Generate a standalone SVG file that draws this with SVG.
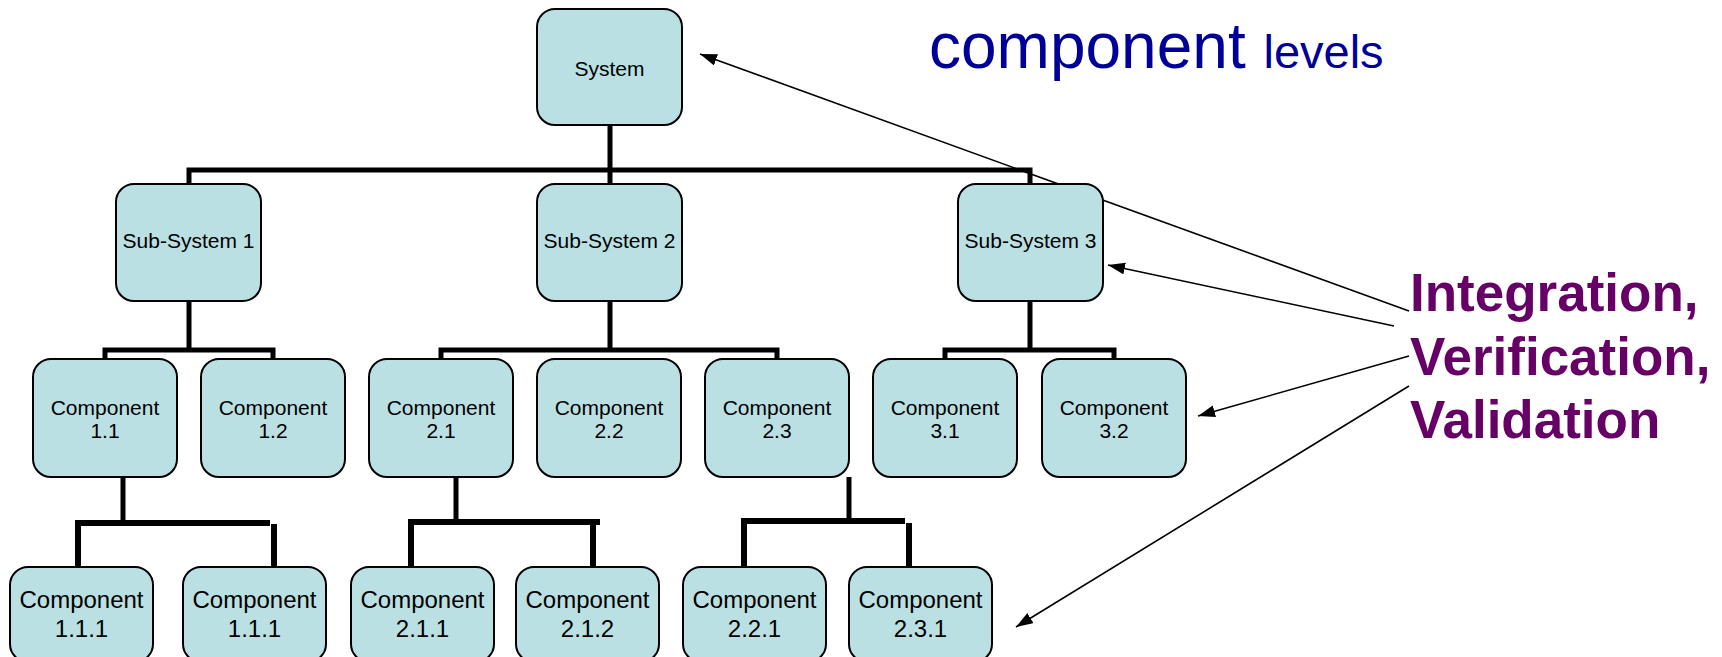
<svg xmlns="http://www.w3.org/2000/svg" width="1722" height="657" viewBox="0 0 1722 657">
<style>
.box{fill:#bae0e3;stroke:#000;stroke-width:2}
.t{font-family:"Liberation Sans",Arial,sans-serif;font-size:21px;fill:#000;text-anchor:middle}
.t4{font-family:"Liberation Sans",Arial,sans-serif;font-size:24px;fill:#000;text-anchor:middle}
.bus{fill:none;stroke:#000;stroke-width:5}
.bus2{fill:none;stroke:#000;stroke-width:6}
.arr{fill:none;stroke:#000;stroke-width:1.6}
.big{font-family:"Liberation Sans",Arial,sans-serif;font-weight:bold;font-size:53px;fill:#660066}
.head{font-family:"Liberation Sans",Arial,sans-serif;font-size:64px;fill:#000099}
</style>
<defs>
<marker id="ah" markerUnits="userSpaceOnUse" markerWidth="18" markerHeight="14" refX="17" refY="6" orient="auto">
<path d="M0,0 L17,6 L0,12 Z" fill="#000"/>
</marker>
</defs>
<text class="head" x="929" y="68">component <tspan font-size="47">levels</tspan></text>
<g id="connectors">
<line class="bus" x1="610" y1="125" x2="610" y2="184"/>
<polyline class="bus" points="189,184 189,170 1030,170 1030,184"/>
<line class="bus" x1="189" y1="301" x2="189" y2="350"/>
<polyline class="bus" points="105,359 105,350 273,350 273,359"/>
<line class="bus" x1="610" y1="301" x2="610" y2="350"/>
<polyline class="bus" points="441,359 441,350 777,350 777,359"/>
<line class="bus" x1="1030" y1="301" x2="1030" y2="350"/>
<polyline class="bus" points="945,359 945,350 1114,350 1114,359"/>
<line class="bus" x1="123" y1="477" x2="123" y2="523"/>
<line class="bus2" x1="77" y1="523" x2="270" y2="523"/>
<line class="bus2" x1="78" y1="520" x2="78" y2="567"/>
<line class="bus2" x1="274" y1="524" x2="274" y2="567"/>
<line class="bus" x1="456" y1="477" x2="456" y2="522"/>
<line class="bus2" x1="408" y1="522" x2="600" y2="522"/>
<line class="bus2" x1="411" y1="519" x2="411" y2="567"/>
<line class="bus2" x1="593" y1="522" x2="593" y2="567"/>
<line class="bus" x1="849" y1="477" x2="849" y2="521"/>
<line class="bus2" x1="742" y1="521" x2="905" y2="521"/>
<line class="bus2" x1="744" y1="518" x2="744" y2="567"/>
<line class="bus2" x1="909" y1="523" x2="909" y2="567"/>
<line class="arr" x1="1409" y1="311" x2="700" y2="54" marker-end="url(#ah)"/>
<line class="arr" x1="1394" y1="326" x2="1108" y2="265" marker-end="url(#ah)"/>
<line class="arr" x1="1409" y1="356" x2="1198" y2="416" marker-end="url(#ah)"/>
<line class="arr" x1="1409" y1="386" x2="1016" y2="627" marker-end="url(#ah)"/>
</g>
<g id="system"><rect class="box" x="537" y="9" width="145" height="116" rx="18"/><text class="t" x="609.5" y="76">System</text></g>
<g id="ss1"><rect class="box" x="116" y="184" width="145" height="117" rx="18"/><text class="t" x="188.5" y="248">Sub-System 1</text></g>
<g id="ss2"><rect class="box" x="537" y="184" width="145" height="117" rx="18"/><text class="t" x="609.5" y="248">Sub-System 2</text></g>
<g id="ss3"><rect class="box" x="958" y="184" width="145" height="117" rx="18"/><text class="t" x="1030.5" y="248">Sub-System 3</text></g>
<g id="c11"><rect class="box" x="33" y="359" width="144" height="118" rx="18"/><text class="t" x="105" y="415">Component<tspan x="105" y="438">1.1</tspan></text></g>
<g id="c12"><rect class="box" x="201" y="359" width="144" height="118" rx="18"/><text class="t" x="273" y="415">Component<tspan x="273" y="438">1.2</tspan></text></g>
<g id="c21"><rect class="box" x="369" y="359" width="144" height="118" rx="18"/><text class="t" x="441" y="415">Component<tspan x="441" y="438">2.1</tspan></text></g>
<g id="c22"><rect class="box" x="537" y="359" width="144" height="118" rx="18"/><text class="t" x="609" y="415">Component<tspan x="609" y="438">2.2</tspan></text></g>
<g id="c23"><rect class="box" x="705" y="359" width="144" height="118" rx="18"/><text class="t" x="777" y="415">Component<tspan x="777" y="438">2.3</tspan></text></g>
<g id="c31"><rect class="box" x="873" y="359" width="144" height="118" rx="18"/><text class="t" x="945" y="415">Component<tspan x="945" y="438">3.1</tspan></text></g>
<g id="c32"><rect class="box" x="1042" y="359" width="144" height="118" rx="18"/><text class="t" x="1114" y="415">Component<tspan x="1114" y="438">3.2</tspan></text></g>
<g id="c111a"><rect class="box" x="10" y="567" width="143" height="95" rx="18"/><text class="t4" x="81.5" y="608">Component<tspan x="81.5" y="637">1.1.1</tspan></text></g>
<g id="c111b"><rect class="box" x="183" y="567" width="143" height="95" rx="18"/><text class="t4" x="254.5" y="608">Component<tspan x="254.5" y="637">1.1.1</tspan></text></g>
<g id="c211"><rect class="box" x="351" y="567" width="143" height="95" rx="18"/><text class="t4" x="422.5" y="608">Component<tspan x="422.5" y="637">2.1.1</tspan></text></g>
<g id="c212"><rect class="box" x="516" y="567" width="143" height="95" rx="18"/><text class="t4" x="587.5" y="608">Component<tspan x="587.5" y="637">2.1.2</tspan></text></g>
<g id="c221"><rect class="box" x="683" y="567" width="143" height="95" rx="18"/><text class="t4" x="754.5" y="608">Component<tspan x="754.5" y="637">2.2.1</tspan></text></g>
<g id="c231"><rect class="box" x="849" y="567" width="143" height="95" rx="18"/><text class="t4" x="920.5" y="608">Component<tspan x="920.5" y="637">2.3.1</tspan></text></g>
<g id="ivv"><text class="big" x="1410" y="311">Integration,</text><text class="big" x="1410" y="375">Verification,</text><text class="big" x="1410" y="438">Validation</text></g>
</svg>
